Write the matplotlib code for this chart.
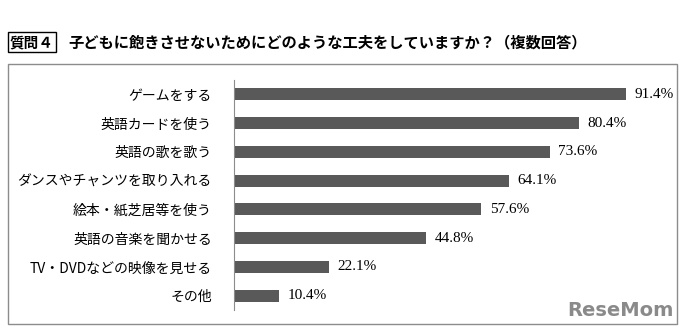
import matplotlib.pyplot as plt
from matplotlib.patches import Rectangle

plt.rcParams['font.family'] = ['Noto Sans CJK JP', 'DejaVu Sans']

categories = ["ゲームをする", "英語カードを使う", "英語の歌を歌う", "ダンスやチャンツを取り入れる",
              "絵本・紙芝居等を使う", "英語の音楽を聞かせる", "TV・DVDなどの映像を見せる", "その他"]
values = [91.4, 80.4, 73.6, 64.1, 57.6, 44.8, 22.1, 10.4]
labels = ["91.4%", "80.4%", "73.6%", "64.1%", "57.6%", "44.8%", "22.1%", "10.4%"]

W, H = 690, 332
fig = plt.figure(figsize=(W / 100, H / 100), dpi=100)

# outer frame
fig.patches.append(Rectangle((8 / W, 1 - 324 / H), 669 / W, 260 / H, transform=fig.transFigure,
                             fill=False, edgecolor="#8c8c8c", linewidth=1.0))

# title
fig.text(10 / W, 1 - 42 / H, "質問４", fontsize=10.5, fontweight="bold", va="center", ha="left",
         bbox=dict(boxstyle="square,pad=0.12", facecolor="white", edgecolor="black", linewidth=1.0))
fig.text(68 / W, 1 - 42 / H, "子どもに飽きさせないためにどのような工夫をしていますか？（複数回答）",
         fontsize=11, fontweight="bold", va="center", ha="left")

ax = fig.add_axes([234 / W, 22 / H, 429 / W, 230 / H])
y = range(len(categories))
ax.barh(y, values, height=0.42, color="#595959")
ax.set_xlim(0, 100)
ax.set_ylim(len(categories) - 0.5, -0.5)
ax.set_yticks(list(y))
ax.set_yticklabels(categories, fontsize=10)
ax.tick_params(axis="y", length=0, pad=16)
ax.set_xticks([])
for s in ["top", "right", "bottom"]:
    ax.spines[s].set_visible(False)
ax.spines["left"].set_color("#8c8c8c")
ax.patch.set_alpha(0)

for i, (v, lab) in enumerate(zip(values, labels)):
    ax.text(v + 2.0, i, lab, va="center", ha="left", fontsize=11, family="Liberation Serif")

# watermark
fig.text(674 / W, 1 - 310 / H, "ReseMom", fontsize=14, fontweight="bold", color="#8a8a8a",
         ha="right", va="center", family="DejaVu Sans")

fig.savefig("out.png", dpi=100)
